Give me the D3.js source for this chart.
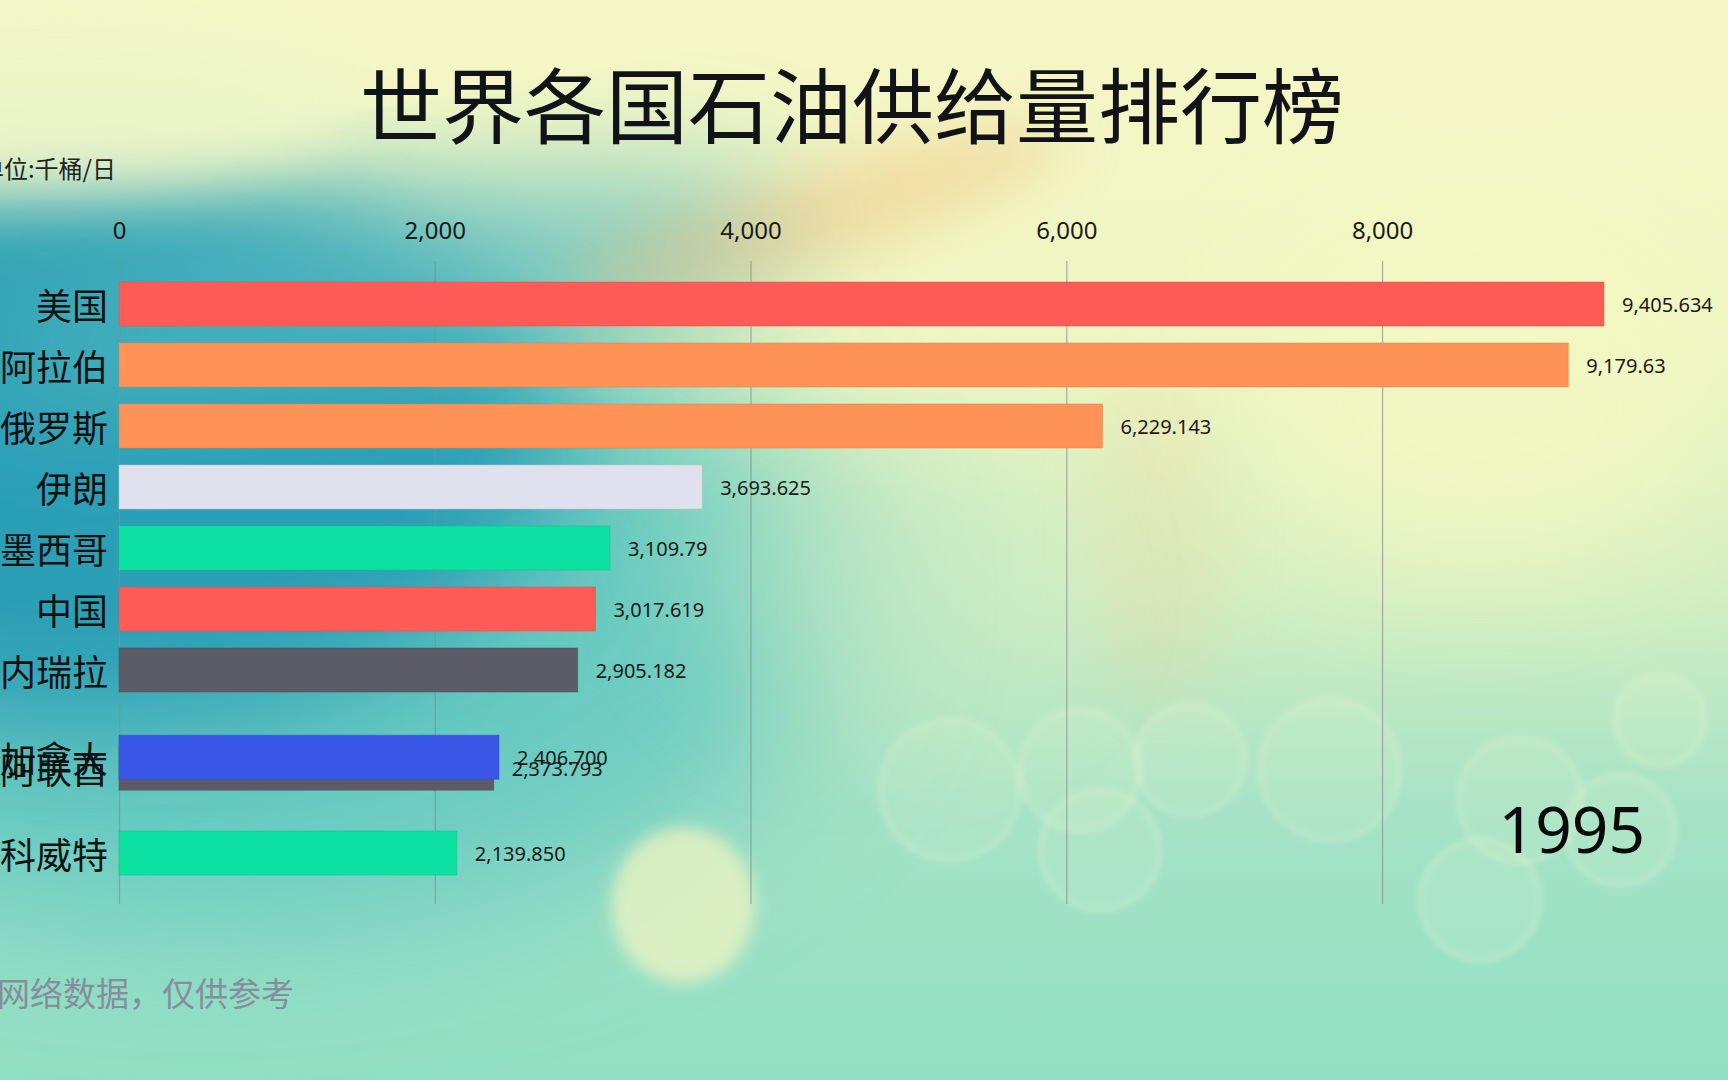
<!DOCTYPE html>
<html>
<head>
<meta charset="utf-8">
<script src="https://cdn.jsdelivr.net/npm/d3@7"></script>
<style>
  html, body { margin: 0; padding: 0; overflow: hidden; background: #f3f6c6; }
  svg { display: block; }
</style>
</head>
<body>
<svg id="chart" width="1728" height="1080"></svg>
<script>
// ---------------- data ----------------
const titleText = '世界各国石油供给量排行榜';
const unitText = '单位:千桶/日';
const sourceText = '数据来源：网络数据，仅供参考';
const yearText = '1995';
const countries = ['美国','沙特阿拉伯','俄罗斯','伊朗','墨西哥','中国','委内瑞拉','加拿大','阿联酋','科威特'];
const values = [9405.634, 9179.63, 6229.143, 3693.625, 3109.79, 3017.619, 2905.182, 2406.7, 2373.793, 2139.85];
const valueLabels = ['9,405.634','9,179.63','6,229.143','3,693.625','3,109.79','3,017.619','2,905.182','2,406.700','2,373.793','2,139.850'];
// animated rank (frame caught mid-swap for 加拿大 / 阿联酋)
const ranks = [0, 1, 2, 3, 4, 5, 6, 7.43, 7.61, 9];
const colors = ['#ff5b57','#ff9256','#ff9256','#dfe2ee','#0ce1a1','#ff5b57','#5b5c68','#3a57e8','#5d5b6a','#0ce1a1'];
const tickValues = [0, 2000, 4000, 6000, 8000];

// ---------------- layout ----------------
const W = 1728, H = 1080;
const left = 119, right = 1604;
const rowTop = 282, rowStep = 61, barH = 44;
const gridTop = 261, gridBottom = 904;

const svg = d3.select('#chart');
const defs = svg.append('defs');

// ---------------- background ----------------
const bg = defs.append('linearGradient').attr('id','bgV').attr('x1',0).attr('y1',0).attr('x2',0).attr('y2',1);
[[0,'#f5f7c6'],[0.3,'#eff6c2'],[0.55,'#d2eec2'],[0.75,'#a6e2c6'],[1,'#92e0c4']].forEach(s=>
  bg.append('stop').attr('offset',s[0]).attr('stop-color',s[1]));
const blur = (id, sd) => defs.append('filter').attr('id',id).attr('x','-50%').attr('y','-50%').attr('width','200%').attr('height','200%')
  .append('feGaussianBlur').attr('stdDeviation', sd);
blur('b80', 80); blur('b60', 60); blur('b30', 30); blur('b8', 8); blur('b3', 3);

const bgG = svg.append('g');
bgG.append('rect').attr('width',W).attr('height',H).attr('fill','url(#bgV)');
// teal left region
bgG.append('ellipse').attr('cx',200).attr('cy',600).attr('rx',650).attr('ry',330).attr('fill','#5cc6c0').attr('opacity',0.85).attr('filter','url(#b80)');
bgG.append('ellipse').attr('cx',80).attr('cy',450).attr('rx',480).attr('ry',280).attr('fill','#2c9fb6').attr('filter','url(#b60)');
bgG.append('ellipse').attr('cx',380).attr('cy',290).attr('rx',420).attr('ry',90).attr('transform','rotate(-10 380 290)')
  .attr('fill','#55b9bf').attr('opacity',0.7).attr('filter','url(#b60)');
bgG.append('ellipse').attr('cx',60).attr('cy',100).attr('rx',300).attr('ry',90).attr('fill','#eef6c8').attr('opacity',0.9).attr('filter','url(#b30)');
// warm streaks
bgG.append('ellipse').attr('cx',820).attr('cy',215).attr('rx',260).attr('ry',45).attr('transform','rotate(-18 820 215)')
  .attr('fill','#efb673').attr('opacity',0.4).attr('filter','url(#b30)');
bgG.append('ellipse').attr('cx',1160).attr('cy',540).attr('rx',70).attr('ry',170).attr('fill','#f4c890').attr('opacity',0.18).attr('filter','url(#b30)');
bgG.append('ellipse').attr('cx',1480).attr('cy',400).attr('rx',240).attr('ry',180).attr('fill','#f5f8c2').attr('opacity',0.75).attr('filter','url(#b60)');
bgG.append('ellipse').attr('cx',880).attr('cy',580).attr('rx',180).attr('ry',130).attr('fill','#bde7c6').attr('opacity',0.5).attr('filter','url(#b60)');
// bokeh
bgG.append('ellipse').attr('cx',683).attr('cy',905).attr('rx',72).attr('ry',78).attr('fill','#f6f6c2').attr('opacity',0.7).attr('filter','url(#b8)');
const rings = [[950,790,70],[1080,770,60],[1190,760,55],[1330,770,70],[1520,800,62],[1620,830,55],[1100,850,60],[1480,900,60],[1660,720,45]];
rings.forEach(r => bgG.append('circle').attr('cx',r[0]).attr('cy',r[1]).attr('r',r[2])
  .attr('fill','#e8f5d0').attr('fill-opacity',0.14).attr('stroke','#f2f8d8').attr('stroke-opacity',0.4).attr('stroke-width',3).attr('filter','url(#b3)'));

// ---------------- scales ----------------
const x = d3.scaleLinear().domain([0, d3.max(values)]).range([left, right]);
const y = d3.scaleLinear().domain([0, 1]).range([rowTop, rowTop + rowStep]);

// ---------------- title & texts ----------------
svg.append('text').attr('x', 852).attr('y', 101).attr('text-anchor','middle').attr('dominant-baseline','central')
  .style('font-family','"Noto Sans CJK SC", "Noto Sans", sans-serif').style('font-size','82px').style('font-weight',400)
  .attr('fill','#111318').text(titleText);
svg.append('text').attr('x', 116).attr('y', 167).attr('text-anchor','end').attr('dominant-baseline','central')
  .style('font-family','"Noto Sans CJK SC", sans-serif').style('font-size','24px').attr('fill','#222').text(unitText);
svg.append('text').attr('x', -168).attr('y', 992).attr('dominant-baseline','central')
  .style('font-family','"Noto Sans CJK SC", sans-serif').style('font-size','33px').attr('fill','#878d9c').text(sourceText);

// ---------------- axis ----------------
const axis = d3.axisTop(x).tickValues(tickValues).tickFormat(d3.format(','))
  .tickSizeInner(-(gridBottom - gridTop)).tickSizeOuter(0).tickPadding(22);
const ax = svg.append('g').attr('transform', `translate(0,${gridTop})`).call(axis);
ax.select('.domain').remove();
ax.selectAll('.tick line').attr('stroke','rgba(140,140,140,0.7)').attr('stroke-width',1.2);
ax.selectAll('.tick text').attr('fill','#1a1a1a').style('font-family','"Noto Sans", sans-serif').style('font-size','24px');

// ---------------- bars ----------------
const data = countries.map((c, i) => ({ name: c, value: values[i], label: valueLabels[i], rank: ranks[i], color: colors[i] }))
  .sort((a, b) => b.rank - a.rank);

const rows = svg.append('g').selectAll('g').data(data).join('g');
rows.append('rect')
  .attr('x', x(0)).attr('y', d => y(d.rank)).attr('width', d => x(d.value) - x(0)).attr('height', barH)
  .attr('fill', d => d.color).attr('stroke', d => d3.color(d.color).darker(0.4)).attr('stroke-opacity', 0.5).attr('stroke-width', 1);
rows.append('text')
  .attr('x', x(0) - 11).attr('y', d => y(d.rank) + barH / 2).attr('text-anchor','end').attr('dominant-baseline','central')
  .style('font-family','"Noto Sans CJK SC", sans-serif').style('font-size','36px').attr('fill','#111').text(d => d.name);
rows.append('text')
  .attr('x', d => x(d.value) + 18).attr('y', d => y(d.rank) + barH / 2).attr('dominant-baseline','central')
  .style('font-family','"Noto Sans", sans-serif').style('font-size','20px').attr('fill','#1a1a1a').text(d => d.label);

// ---------------- year ----------------
svg.append('text').attr('x', 1645).attr('y', 853).attr('text-anchor','end')
  .style('font-family','"Noto Sans", sans-serif').style('font-size','64px').attr('fill','#0a0a0a').text(yearText);
</script>
</body>
</html>
